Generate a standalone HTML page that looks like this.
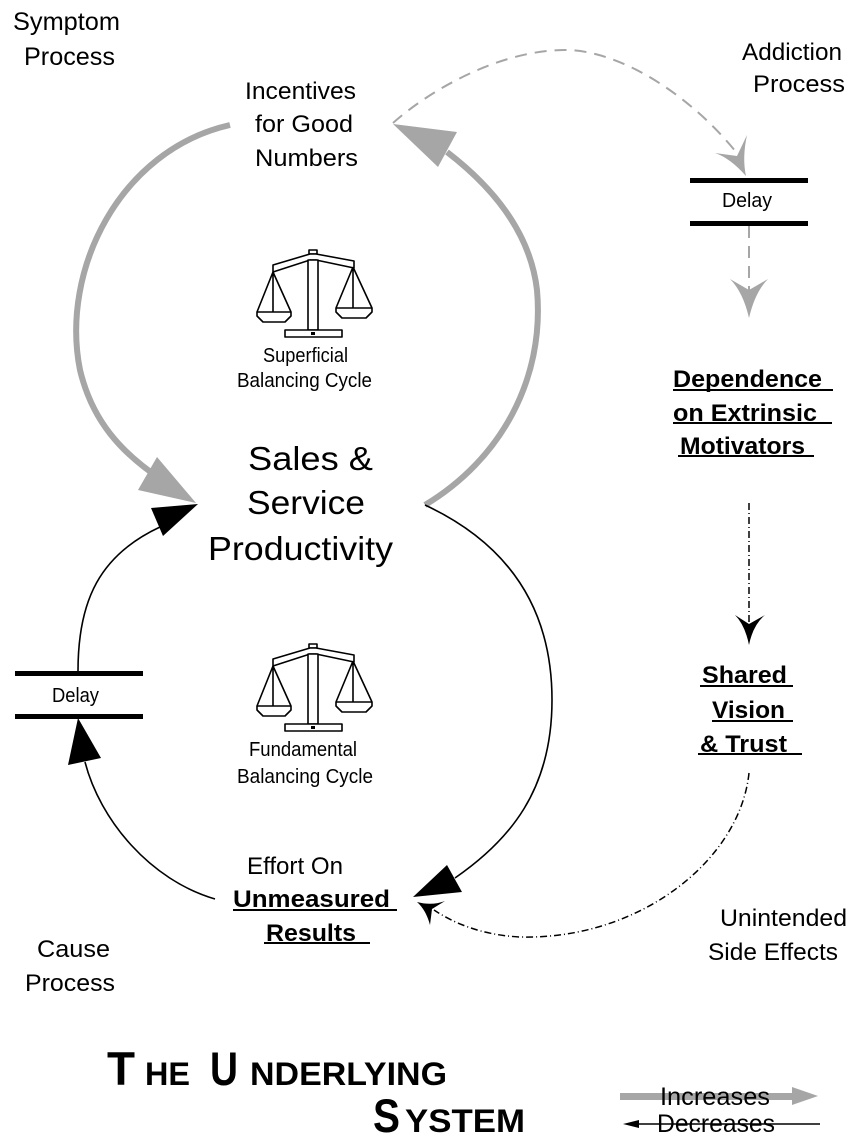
<!DOCTYPE html>
<html><head><meta charset="utf-8"><style>
html,body{margin:0;padding:0;background:#fff;}
svg{display:block;}
text{font-family:"Liberation Sans",Arial,sans-serif;fill:#000;}
.b{font-weight:bold;}
</style></head><body>
<svg width="857" height="1145" viewBox="0 0 857 1145" xmlns="http://www.w3.org/2000/svg">
<rect width="857" height="1145" fill="#fff"/>
<defs>
<g id="scale" fill="#fff" stroke="#000" stroke-width="1.6" stroke-linejoin="round">
  <rect x="309" y="250" width="8" height="4"/>
  <path d="M273,265 L310,254 L316,254 L354,261 L354,268 L316,260 L310,260 L273,272 Z"/>
  <rect x="308" y="260" width="10" height="70"/>
  <rect x="285" y="330" width="57" height="7"/>
  <rect x="311" y="332" width="4" height="3" fill="#000" stroke="none"/>
  <path d="M273,272 L257,312 M273,272 L273,312 M273,272 L291,312" fill="none"/>
  <path d="M257,312 L291,312 L291,316 L285,322 L263,322 L257,316 Z"/>
  <path d="M353,267 L336,308 M353,267 L353,308 M353,267 L372,308" fill="none"/>
  <path d="M336,308 L372,308 L372,312 L366,318 L342,318 L336,312 Z"/>
</g>
</defs>

<!-- Superficial loop (gray) -->
<path d="M230,125 C 120,150 60,270 80,370 C 92,420 120,452 162,480" fill="none" stroke="#a6a6a6" stroke-width="6"/>
<polygon points="196,503 138,490 157,457" fill="#a6a6a6"/>
<path d="M425,505 C 500,460 545,380 537,290 C 530,230 490,185 447,152" fill="none" stroke="#a6a6a6" stroke-width="6"/>
<polygon points="393,124 457,132 438,167" fill="#a6a6a6"/>

<!-- Fundamental loop (black) -->
<path d="M425,505 C 500,540 552,600 552,700 C 552,790 510,840 455,878" fill="none" stroke="#000" stroke-width="1.6"/>
<polygon points="413,897 447,865 462,892" fill="#000"/>
<path d="M215,899 C 150,880 100,820 85,762" fill="none" stroke="#000" stroke-width="1.6"/>
<polygon points="78,718 68,765 101,758" fill="#000"/>
<path d="M78,671 C 78,600 100,555 160,527" fill="none" stroke="#000" stroke-width="1.6"/>
<polygon points="198,504 151,508 163,536" fill="#000"/>

<!-- Addiction dashed gray -->
<path d="M393,123 C 430,90 500,50 565,50 C 620,50 690,95 736,152" fill="none" stroke="#a6a6a6" stroke-width="2" stroke-dasharray="12 8"/>
<path d="M746,176 Q 730,158 715,153 L737,156 L747,135 Q 742,158 746,176 Z" fill="#a6a6a6"/>
<line x1="749" y1="226" x2="749" y2="290" stroke="#a6a6a6" stroke-width="2" stroke-dasharray="12 8"/>
<path d="M749,318 Q 743,292 730,279 L749,290 L768,279 Q 755,292 749,318 Z" fill="#a6a6a6"/>

<!-- Delay boxes -->
<rect x="690" y="178" width="118" height="5" fill="#000"/>
<rect x="690" y="221" width="118" height="5" fill="#000"/>
<rect x="15" y="671" width="128" height="5" fill="#000"/>
<rect x="15" y="714" width="128" height="5" fill="#000"/>

<!-- dash-dot black -->
<line x1="749" y1="503" x2="749" y2="622" stroke="#000" stroke-width="1.5" stroke-dasharray="7 3 1 3"/>
<path d="M749,645 Q 745,625 735,615 L749,624 L765,615 Q 753,625 749,645 Z" fill="#000"/>
<path d="M749,773 C 740,860 640,940 520,937 C 480,935 452,922 434,910" fill="none" stroke="#000" stroke-width="1.5" stroke-dasharray="7 3 1 3"/>
<path d="M417,902 Q 432,906 445,901 L432,909 L430,925 Q 426,910 417,902 Z" fill="#000"/>

<!-- scales -->
<use href="#scale"/>
<use href="#scale" transform="translate(0,394)"/>

<!-- texts -->
<text x="13" y="30" font-size="25" textLength="107" lengthAdjust="spacingAndGlyphs">Symptom</text>
<text x="24" y="65" font-size="25" textLength="91" lengthAdjust="spacingAndGlyphs">Process</text>

<text x="245" y="99" font-size="24" textLength="111" lengthAdjust="spacingAndGlyphs">Incentives</text>
<text x="255" y="132" font-size="24" textLength="98" lengthAdjust="spacingAndGlyphs">for Good</text>
<text x="255" y="166" font-size="24" textLength="103" lengthAdjust="spacingAndGlyphs">Numbers</text>

<text x="742" y="60" font-size="24" textLength="100" lengthAdjust="spacingAndGlyphs">Addiction</text>
<text x="753" y="92" font-size="24" textLength="92" lengthAdjust="spacingAndGlyphs">Process</text>

<text x="722" y="207" font-size="20" textLength="50" lengthAdjust="spacingAndGlyphs">Delay</text>
<text x="52" y="702" font-size="20" textLength="47" lengthAdjust="spacingAndGlyphs">Delay</text>

<text x="263" y="362" font-size="20" textLength="85" lengthAdjust="spacingAndGlyphs">Superficial</text>
<text x="237" y="387" font-size="20" textLength="135" lengthAdjust="spacingAndGlyphs">Balancing Cycle</text>
<text x="249" y="756" font-size="20" textLength="108" lengthAdjust="spacingAndGlyphs">Fundamental</text>
<text x="237" y="783" font-size="20" textLength="136" lengthAdjust="spacingAndGlyphs">Balancing Cycle</text>

<text class="b" x="673" y="387" font-size="24" textLength="149" lengthAdjust="spacingAndGlyphs">Dependence</text>
<rect x="673" y="389" width="160" height="2" fill="#000"/>
<text class="b" x="673" y="421" font-size="24" textLength="144" lengthAdjust="spacingAndGlyphs">on Extrinsic</text>
<rect x="673" y="422" width="159" height="2" fill="#000"/>
<text class="b" x="680" y="454" font-size="24" textLength="125" lengthAdjust="spacingAndGlyphs">Motivators</text>
<rect x="678" y="455" width="136" height="2" fill="#000"/>

<text x="248" y="470" font-size="33" textLength="125" lengthAdjust="spacingAndGlyphs">Sales &amp;</text>
<text x="247" y="514" font-size="33" textLength="118" lengthAdjust="spacingAndGlyphs">Service</text>
<text x="208" y="560" font-size="33" textLength="185" lengthAdjust="spacingAndGlyphs">Productivity</text>

<text class="b" x="702" y="683" font-size="24" textLength="85" lengthAdjust="spacingAndGlyphs">Shared</text>
<rect x="700" y="685" width="93" height="2" fill="#000"/>
<text class="b" x="712" y="718" font-size="24" textLength="73" lengthAdjust="spacingAndGlyphs">Vision</text>
<rect x="712" y="720" width="81" height="2" fill="#000"/>
<text class="b" x="700" y="752" font-size="24" textLength="87" lengthAdjust="spacingAndGlyphs">&amp; Trust</text>
<rect x="698" y="753" width="104" height="2" fill="#000"/>

<text x="247" y="874" font-size="24" textLength="96" lengthAdjust="spacingAndGlyphs">Effort On</text>
<text class="b" x="233" y="907" font-size="24" textLength="157" lengthAdjust="spacingAndGlyphs">Unmeasured</text>
<rect x="233" y="909" width="164" height="2" fill="#000"/>
<text class="b" x="266" y="941" font-size="24" textLength="90" lengthAdjust="spacingAndGlyphs">Results</text>
<rect x="264" y="942" width="106" height="2" fill="#000"/>

<text x="720" y="926" font-size="24" textLength="127" lengthAdjust="spacingAndGlyphs">Unintended</text>
<text x="708" y="960" font-size="24" textLength="130" lengthAdjust="spacingAndGlyphs">Side Effects</text>

<text x="37" y="957" font-size="24" textLength="73" lengthAdjust="spacingAndGlyphs">Cause</text>
<text x="25" y="991" font-size="24" textLength="90" lengthAdjust="spacingAndGlyphs">Process</text>

<!-- Title -->
<text class="b" x="107" y="1085" font-size="47" textLength="28" lengthAdjust="spacingAndGlyphs">T</text>
<text class="b" x="145" y="1085" font-size="32" textLength="45" lengthAdjust="spacingAndGlyphs">HE</text>
<text class="b" x="210" y="1085" font-size="47" textLength="28" lengthAdjust="spacingAndGlyphs">U</text>
<text class="b" x="250" y="1085" font-size="32" textLength="197" lengthAdjust="spacingAndGlyphs">NDERLYING</text>
<text class="b" x="373" y="1132" font-size="47" textLength="27" lengthAdjust="spacingAndGlyphs">S</text>
<text class="b" x="405" y="1132" font-size="32" textLength="120" lengthAdjust="spacingAndGlyphs">YSTEM</text>

<!-- Legend -->
<rect x="620" y="1093" width="175" height="7" fill="#a6a6a6"/>
<polygon points="792,1087 818,1096 792,1105" fill="#a6a6a6"/>
<text x="660" y="1105" font-size="25" textLength="110" lengthAdjust="spacingAndGlyphs">Increases</text>
<text x="657" y="1132" font-size="25" textLength="118" lengthAdjust="spacingAndGlyphs">Decreases</text>
<line x1="630" y1="1124" x2="820" y2="1124" stroke="#000" stroke-width="1.5"/>
<polygon points="623,1124 639,1120 639,1128" fill="#000"/>
</svg>
</body></html>
